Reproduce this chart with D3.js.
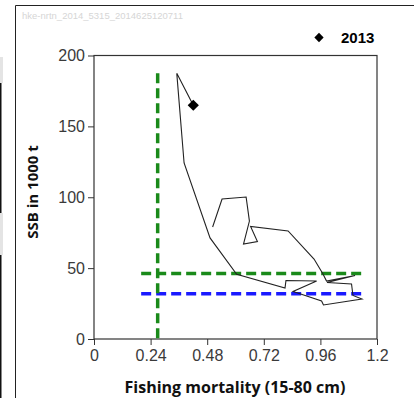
<!DOCTYPE html>
<html>
<head>
<meta charset="utf-8">
<script src="https://cdn.jsdelivr.net/npm/d3@7"></script>
<style>
  body { margin: 0; background: #fff; }
  svg { display: block; }
</style>
</head>
<body>
<svg width="414" height="398"></svg>
<script>
// fishing mortality (15-80 cm) and SSB (1000 t), one point per year
const years = d3.range(1987, 2014);
const fValues = [0.503, 0.543, 0.645, 0.659, 0.634, 0.693, 0.664, 0.823, 0.933, 0.971,
                 0.986, 1.107, 0.988, 1.092, 1.098, 1.136, 0.973, 0.965, 0.844, 0.944,
                 0.814, 0.810, 0.605, 0.492, 0.382, 0.351, 0.421];
const ssbValues = [79.0, 98.8, 100.2, 83.2, 67.0, 68.8, 79.4, 76.2, 56.4, 45.9,
                   40.9, 44.8, 39.9, 38.8, 30.7, 28.2, 24.0, 26.8, 33.5, 40.9,
                   41.3, 36.0, 45.6, 71.3, 124.2, 187.4, 164.9];

const xTicks = [0, 0.24, 0.48, 0.72, 0.96, 1.2];
const xTickLabels = ["0", "0.24", "0.48", "0.72", "0.96", "1.2"];
const yTicks = [0, 50, 100, 150, 200];

// reference points
const fmsy = 0.27;
const bpa = 46.2;
const blim = 32;
const refLineStartF = 0.2;

const svg = d3.select("svg");
const font = "'Liberation Sans', Arial, sans-serif";

const x = d3.scaleLinear().domain([0, 1.2]).range([94, 377]);
const y = d3.scaleLinear().domain([0, 200]).range([339, 55.5]);

// outer panel frame and neighbour bits on the left edge
svg.append("path")
    .attr("d", "M15.5,398 V5.5 H414")
    .attr("fill", "none")
    .attr("stroke", "#222")
    .attr("stroke-width", 1);
svg.append("rect").attr("x", 0).attr("y", 57).attr("width", 3).attr("height", 26).attr("fill", "#e4e4e4");
svg.append("rect").attr("x", 0).attr("y", 83).attr("width", 1.5).attr("height", 130).attr("fill", "#111");
svg.append("rect").attr("x", 0).attr("y", 213).attr("width", 3).attr("height", 42).attr("fill", "#e4e4e4");
svg.append("rect").attr("x", 0).attr("y", 255).attr("width", 1.5).attr("height", 143).attr("fill", "#111");

svg.append("text")
    .attr("x", 22)
    .attr("y", 19)
    .style("font", "9.5px " + font)
    .attr("fill", "#d6d6d6")
    .text("hke-nrtn_2014_5315_2014625120711");

// axes
const xAxis = svg.append("g")
    .attr("transform", "translate(0,339)")
    .call(d3.axisBottom(x).tickValues(xTicks).tickFormat((d, i) => xTickLabels[i]).tickSize(6).tickPadding(5));
const yAxis = svg.append("g")
    .attr("transform", "translate(94,0)")
    .call(d3.axisLeft(y).tickValues(yTicks).tickSize(6).tickPadding(3));

[xAxis, yAxis].forEach(g => {
    g.select(".domain").remove();
    g.selectAll("line").attr("stroke", "#333");
    g.selectAll("text").style("font", "16px " + font).attr("fill", "#3a3a3a");
});

svg.append("rect")
    .attr("x", 94)
    .attr("y", 55.5)
    .attr("width", 283)
    .attr("height", 283.5)
    .attr("fill", "none")
    .attr("stroke", "#333")
    .attr("stroke-width", 1.2);

// reference lines
const fMax = d3.max(fValues);
const ssbMax = d3.max(ssbValues);

svg.append("line")
    .attr("x1", x(refLineStartF)).attr("x2", x(fMax))
    .attr("y1", y(blim)).attr("y2", y(blim))
    .attr("stroke", "#1a1aff")
    .attr("stroke-width", 3.5)
    .attr("stroke-dasharray", "10,5");
svg.append("line")
    .attr("x1", x(refLineStartF)).attr("x2", x(fMax))
    .attr("y1", y(bpa)).attr("y2", y(bpa))
    .attr("stroke", "#1a8a1a")
    .attr("stroke-width", 3.5)
    .attr("stroke-dasharray", "10,5");
svg.append("line")
    .attr("x1", x(fmsy)).attr("x2", x(fmsy))
    .attr("y1", y(ssbMax)).attr("y2", y(0))
    .attr("stroke", "#1a8a1a")
    .attr("stroke-width", 3.5)
    .attr("stroke-dasharray", "10,5");

// stock trajectory
const pts = years.map((yr, i) => ({ year: yr, f: fValues[i], ssb: ssbValues[i] }));

svg.append("path")
    .datum(pts)
    .attr("fill", "none")
    .attr("stroke", "#222")
    .attr("stroke-width", 1.1)
    .attr("stroke-linejoin", "miter")
    .attr("d", d3.line().x(d => x(d.f)).y(d => y(d.ssb)));

const last = pts[pts.length - 1];
const diamond = d3.symbol().type(d3.symbolDiamond2).size(80);

svg.append("path")
    .attr("d", diamond())
    .attr("transform", `translate(${x(last.f)},${y(last.ssb)})`)
    .attr("fill", "#000");

// legend
svg.append("path")
    .attr("d", d3.symbol().type(d3.symbolDiamond2).size(55)())
    .attr("transform", "translate(319,37.5)")
    .attr("fill", "#000");
svg.append("text")
    .attr("x", 341)
    .attr("y", 43)
    .style("font", "bold 15px " + font)
    .attr("fill", "#000")
    .text(last.year);

// axis titles
svg.append("text")
    .attr("x", 235)
    .attr("y", 393)
    .attr("text-anchor", "middle")
    .style("font", "bold 16px 'Open Sans', sans-serif")
    .attr("fill", "#111")
    .text("Fishing mortality (15-80 cm)");

svg.append("text")
    .attr("transform", "translate(38,192) rotate(-90)")
    .attr("text-anchor", "middle")
    .style("font", "bold 15px 'Open Sans', sans-serif")
    .attr("fill", "#111")
    .text("SSB in 1000 t");
</script>
</body>
</html>
